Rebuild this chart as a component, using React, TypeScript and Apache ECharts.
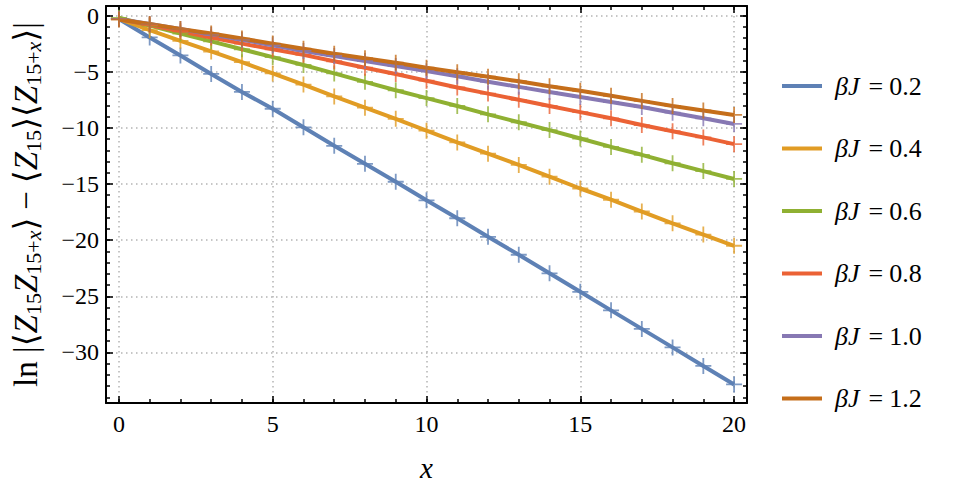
import React, { useEffect, useRef } from "react";
import * as echarts from "echarts";

const xValues = [0, 1, 2, 3, 4, 5, 6, 7, 8, 9, 10, 11, 12, 13, 14, 15, 16, 17, 18, 19, 20];
const seriesNames = ["0.2", "0.4", "0.6", "0.8", "1.0", "1.2"];
const colors = ["#5E81B5", "#E19C24", "#8FB032", "#EB6235", "#8778B3", "#C56E1A"];

const bj02 = [-0.3, -1.95, -3.55, -5.2, -6.8, -8.3, -9.95, -11.6, -13.2, -14.8, -16.45, -18.05, -19.7, -21.3, -22.95, -24.6, -26.25, -27.9, -29.55, -31.2, -32.85];
const bj04 = [-0.3, -1.3, -2.25, -3.2, -4.15, -5.15, -6.15, -7.2, -8.2, -9.2, -10.25, -11.3, -12.3, -13.3, -14.35, -15.4, -16.4, -17.45, -18.5, -19.5, -20.5];
const bj06 = [-0.2, -0.9, -1.6, -2.3, -3.0, -3.7, -4.4, -5.15, -5.9, -6.65, -7.35, -8.05, -8.8, -9.5, -10.2, -10.95, -11.7, -12.4, -13.15, -13.85, -14.55];
const bj08 = [-0.3, -0.85, -1.4, -1.95, -2.5, -3.0, -3.5, -4.07, -4.65, -5.2, -5.8, -6.4, -6.95, -7.5, -8.05, -8.6, -9.15, -9.75, -10.3, -10.85, -11.45];
const bj10 = [-0.3, -0.75, -1.2, -1.7, -2.15, -2.65, -3.15, -3.6, -4.05, -4.5, -4.95, -5.4, -5.9, -6.35, -6.8, -7.25, -7.7, -8.15, -8.65, -9.15, -9.65];
const bj12 = [-0.35, -0.75, -1.2, -1.6, -2.05, -2.5, -2.95, -3.4, -3.8, -4.2, -4.65, -5.05, -5.45, -5.85, -6.3, -6.7, -7.15, -7.6, -8.05, -8.45, -8.85];
const allSeries = [bj02, bj04, bj06, bj08, bj10, bj12];

const xMajorTicks = [0, 5, 10, 15, 20];
const xMinorTicks = [0, 1, 2, 3, 4, 5, 6, 7, 8, 9, 10, 11, 12, 13, 14, 15, 16, 17, 18, 19, 20];
const yMajorTicks = [0, -5, -10, -15, -20, -25, -30];
const yMinorTicks = [0, -1, -2, -3, -4, -5, -6, -7, -8, -9, -10, -11, -12, -13, -14, -15, -16, -17, -18, -19, -20, -21, -22, -23, -24, -25, -26, -27, -28, -29, -30, -31, -32, -33, -34];

const X_MIN = -0.42;
const X_MAX = 20.42;
const Y_MIN = -34.5;
const Y_MAX = 0.85;

const FONT = "'Liberation Serif', 'DejaVu Serif', serif";

const fmt = (v: number) => (v < 0 ? "\u2212" + Math.abs(v) : String(v));

function makeX(position: string, major: boolean, labels: boolean, grid: boolean) {
  return {
    type: "value",
    min: X_MIN,
    max: X_MAX,
    position,
    offset: 0,
    axisLine: { show: major, onZero: false, lineStyle: { color: "#000", width: 2 } },
    axisTick: {
      show: true,
      inside: true,
      length: major ? 7 : 4,
      customValues: major ? xMajorTicks : xMinorTicks,
      lineStyle: { color: "#000", width: 1.5 },
    },
    axisLabel: labels
      ? { show: true, customValues: xMajorTicks, formatter: fmt, fontFamily: FONT, fontSize: 24, color: "#000", margin: 9 }
      : { show: false },
    splitLine: grid
      ? { show: true, lineStyle: { color: "#b4b4b4", width: 1.5, type: [1.5, 3.5] } }
      : { show: false },
    minorTick: { show: false },
    name: labels ? "x" : "",
    nameLocation: "middle",
    nameGap: 50,
    nameTextStyle: { fontFamily: FONT, fontSize: 29, fontStyle: "italic", color: "#000" },
  };
}

function makeY(position: string, major: boolean, labels: boolean, grid: boolean) {
  return {
    type: "value",
    min: Y_MIN,
    max: Y_MAX,
    position,
    offset: 0,
    axisLine: { show: major, onZero: false, lineStyle: { color: "#000", width: 2 } },
    axisTick: {
      show: true,
      inside: true,
      length: major ? 7 : 4,
      customValues: major ? yMajorTicks : yMinorTicks,
      lineStyle: { color: "#000", width: 1.5 },
    },
    axisLabel: labels
      ? { show: true, customValues: yMajorTicks, formatter: fmt, fontFamily: FONT, fontSize: 24, color: "#000", margin: 7 }
      : { show: false },
    splitLine: grid
      ? { show: true, lineStyle: { color: "#b4b4b4", width: 1.5, type: [1.5, 3.5] } }
      : { show: false },
    minorTick: { show: false },
    name: labels
      ? "{r|ln |⟨}{i|Z}{s|15}{i|Z}{s|15+}{si|x}{r|⟩}{m|−}{r|⟨}{i|Z}{s|15}{r|⟩⟨}{i|Z}{s|15+}{si|x}{r|⟩|}"
      : "",
    nameLocation: "middle",
    nameGap: 62,
    nameRotate: 90,
    nameTextStyle: {
      fontFamily: FONT,
      fontSize: 33,
      color: "#000",
      lineHeight: 36,
      rich: {
        r: { fontFamily: FONT, fontSize: 33, color: "#000", lineHeight: 36 },
        m: { fontFamily: FONT, fontSize: 33, color: "#000", lineHeight: 36, padding: [0, 8, 0, 8] },
        i: { fontFamily: FONT, fontSize: 33, fontStyle: "italic", color: "#000", lineHeight: 36 },
        s: { fontFamily: FONT, fontSize: 22, color: "#000", verticalAlign: "bottom", lineHeight: 18 },
        si: { fontFamily: FONT, fontSize: 22, fontStyle: "italic", color: "#000", verticalAlign: "bottom", lineHeight: 18 },
      },
    },
  };
}

export default function App() {
  const ref = useRef<HTMLDivElement>(null);
  useEffect(() => {
    if (!ref.current) return;
    const chart = echarts.init(ref.current, undefined, { renderer: "svg" });
    const lineSeries = allSeries.map((arr, i) => ({
      name: "βJ = " + seriesNames[i],
      type: "line",
      xAxisIndex: 0,
      yAxisIndex: 0,
      data: xValues.map((x, k) => [x, arr[k]]),
      symbol: "none",
      lineStyle: { color: colors[i], width: 4 },
      itemStyle: { color: colors[i] },
      z: 3,
    }));
    const markerSeries = allSeries.map((arr, i) => ({
      name: "m" + i,
      type: "scatter",
      xAxisIndex: 0,
      yAxisIndex: 0,
      data: xValues.map((x, k) => [x, arr[k]]),
      symbol: "path://M0,-10L0,10M-10,0L10,0",
      symbolSize: 16,
      itemStyle: { color: "none", borderColor: colors[i], borderWidth: 1.8 },
      z: 4,
      silent: true,
    }));
    const option = {
      animation: false,
      grid: { left: 104, right: 214, top: 6, bottom: 91, containLabel: false },
      xAxis: [
        makeX("bottom", true, true, true),
        makeX("bottom", false, false, false),
        makeX("top", true, false, false),
        makeX("top", false, false, false),
      ],
      yAxis: [
        makeY("left", true, true, true),
        makeY("left", false, false, false),
        makeY("right", true, false, false),
        makeY("right", false, false, false),
      ],
      legend: {
        data: lineSeries.map((s) => s.name),
        orient: "vertical",
        left: 777,
        top: 68,
        icon: "rect",
        itemWidth: 40,
        itemHeight: 4,
        itemGap: 36.5,
        formatter: (name: string) => "{i|βJ}{e|=}{n|" + name.split("= ")[1] + "}",
        textStyle: {
          fontFamily: FONT,
          fontSize: 26,
          color: "#000",
          padding: [0, 0, 0, 8],
          rich: {
            i: { fontFamily: FONT, fontSize: 26, fontStyle: "italic", color: "#000" },
            e: { fontFamily: FONT, fontSize: 26, color: "#000", padding: [0, 6, 0, 9] },
            n: { fontFamily: FONT, fontSize: 26, color: "#000" },
          },
        },
      },
      series: [...lineSeries, ...markerSeries],
    };
    chart.setOption(option as any);
    return () => chart.dispose();
  }, []);
  return (
    <div
      ref={ref}
      style={{ position: "fixed", left: 0, top: 0, width: 961, height: 494, background: "#fff" }}
    />
  );
}
